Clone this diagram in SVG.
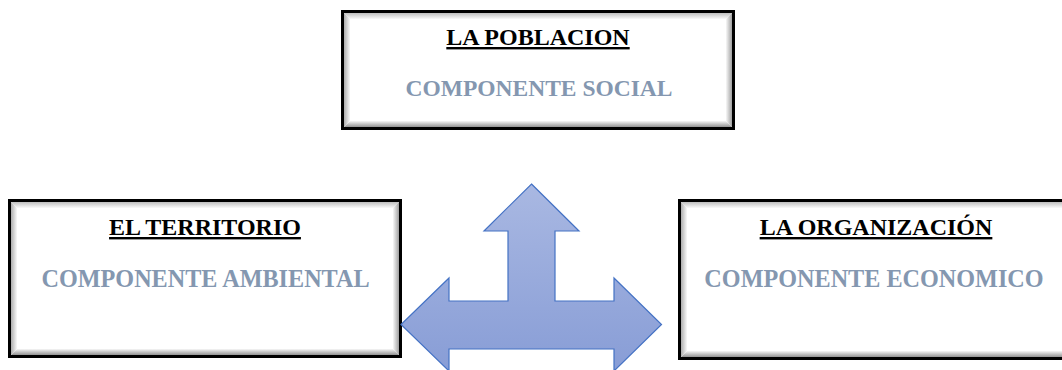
<svg xmlns="http://www.w3.org/2000/svg" width="1062" height="370" viewBox="0 0 1062 370">
  <style>
    .frame { fill: none; stroke: #000; stroke-width: 3; }
    .bg { fill: #fff; }
    .title { font-family: 'Liberation Serif', 'Times New Roman', serif; font-weight: bold; font-size: 24px; fill: #000; text-anchor: middle; text-decoration: underline; }
    .sub { font-family: 'Liberation Serif', 'Times New Roman', serif; font-weight: bold; font-size: 23.5px; fill: #8497b0; text-anchor: middle; }
    .sub-lg { font-size: 24.2px; }
    .bt { fill: url(#gTop); }
    .bb { fill: url(#gBot); }
    .bl { fill: url(#gLeft); }
    .br { fill: url(#gRight); }
    .arrow { fill: url(#gArrow); stroke: #4472c4; stroke-width: 1.2; stroke-linejoin: miter; }
  </style>
  <defs>
    <linearGradient id="gTop" x1="0" y1="0" x2="0" y2="1">
      <stop offset="0" stop-color="#b0b0b0"/>
      <stop offset="1" stop-color="#ffffff"/>
    </linearGradient>
    <linearGradient id="gBot" x1="0" y1="1" x2="0" y2="0">
      <stop offset="0" stop-color="#7a7a7a"/>
      <stop offset="1" stop-color="#ffffff"/>
    </linearGradient>
    <linearGradient id="gLeft" x1="0" y1="0" x2="1" y2="0">
      <stop offset="0" stop-color="#9a9a9a"/>
      <stop offset="1" stop-color="#ffffff"/>
    </linearGradient>
    <linearGradient id="gRight" x1="1" y1="0" x2="0" y2="0">
      <stop offset="0" stop-color="#8a8a8a"/>
      <stop offset="1" stop-color="#ffffff"/>
    </linearGradient>
    <linearGradient id="gArrow" x1="0" y1="0" x2="0" y2="1">
      <stop offset="0" stop-color="#a9b8e2"/>
      <stop offset="1" stop-color="#889dd6"/>
    </linearGradient>
  </defs>

  <g id="node-poblacion">
    <rect class="bg" x="342.5" y="11.5" width="391" height="117"/>
    <polygon class="bt" points="342.5,11.5 733.5,11.5 725.5,19.5 350.5,19.5"/>
    <polygon class="bb" points="342.5,128.5 733.5,128.5 725.5,120.5 350.5,120.5"/>
    <polygon class="bl" points="342.5,11.5 350.5,19.5 350.5,120.5 342.5,128.5"/>
    <polygon class="br" points="733.5,11.5 725.5,19.5 725.5,120.5 733.5,128.5"/>
    <rect class="frame" x="342.5" y="11.5" width="391" height="117"/>
    <text class="title" x="538" y="45">LA POBLACION</text>
    <text class="sub" x="539" y="96">COMPONENTE SOCIAL</text>
  </g>

  <g id="node-territorio">
    <rect class="bg" x="9.5" y="200.5" width="391" height="156"/>
    <polygon class="bt" points="9.5,200.5 400.5,200.5 392.5,208.5 17.5,208.5"/>
    <polygon class="bb" points="9.5,356.5 400.5,356.5 392.5,348.5 17.5,348.5"/>
    <polygon class="bl" points="9.5,200.5 17.5,208.5 17.5,348.5 9.5,356.5"/>
    <polygon class="br" points="400.5,200.5 392.5,208.5 392.5,348.5 400.5,356.5"/>
    <rect class="frame" x="9.5" y="200.5" width="391" height="156"/>
    <text class="title" x="205" y="235">EL TERRITORIO</text>
    <text class="sub sub-lg" x="205.5" y="287">COMPONENTE AMBIENTAL</text>
  </g>

  <g id="node-organizacion">
    <rect class="bg" x="679.5" y="200.5" width="391" height="158"/>
    <polygon class="bt" points="679.5,200.5 1070.5,200.5 1062.5,208.5 687.5,208.5"/>
    <polygon class="bb" points="679.5,358.5 1070.5,358.5 1062.5,350.5 687.5,350.5"/>
    <polygon class="bl" points="679.5,200.5 687.5,208.5 687.5,350.5 679.5,358.5"/>
    <polygon class="br" points="1070.5,200.5 1062.5,208.5 1062.5,350.5 1070.5,358.5"/>
    <rect class="frame" x="679.5" y="200.5" width="391" height="158"/>
    <text class="title" x="876" y="235">LA ORGANIZACIÓN</text>
    <text class="sub sub-lg" x="874" y="287">COMPONENTE ECONOMICO</text>
  </g>

  <g id="connectors">
    <path class="arrow" d="M531.5,184 L579,231 L555,231 L555,301 L614,301 L614,278 L661.5,324.5 L614,371 L614,349 L449,349 L449,371 L401,324.5 L449,278 L449,301 L508,301 L508,231 L484,231 Z"/>
  </g>
</svg>
